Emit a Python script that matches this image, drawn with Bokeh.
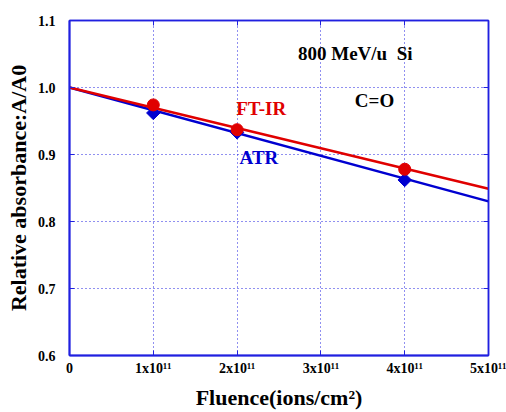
import math
from bokeh.plotting import figure
from bokeh.models import Range1d, FixedTicker, LinearAxis, Label
from bokeh.embed import file_html
from bokeh.resources import INLINE

# ---- data ----
fluence = [1e11, 2e11, 4e11]
ftir = [0.974, 0.937, 0.878]
atr = [0.962, 0.933, 0.862]
fit_x = [0, 5e11]
ftir_fit = [1.0, 0.849]
atr_fit = [1.0, 0.830]
x_ticks = [0, 1e11, 2e11, 3e11, 4e11, 5e11]
x_tick_labels = ["0", "1x10\u00b9\u00b9", "2x10\u00b9\u00b9", "3x10\u00b9\u00b9", "4x10\u00b9\u00b9", "5x10\u00b9\u00b9"]
y_ticks = [0.6, 0.7, 0.8, 0.9, 1.0, 1.1]

FONT = "Liberation Serif"
RED = "#e00000"
BLUE = "#0000d0"
AXC = "#2020e0"

p = figure(width=506, height=412, output_backend="svg", toolbar_location=None,
           x_range=Range1d(0, 5e11), y_range=Range1d(0.6, 1.1),
           min_border_left=69, min_border_right=18, min_border_top=20, min_border_bottom=57)
p.background_fill_color = "white"
p.border_fill_color = "white"
p.outline_line_color = AXC
p.outline_line_width = 1.5

for ax in (p.xaxis[0], p.yaxis[0]):
    ax.axis_line_color = AXC
    ax.axis_line_width = 2
    ax.major_tick_line_color = AXC
    ax.major_tick_in = 5
    ax.major_tick_out = 0
    ax.minor_tick_line_color = None
    ax.major_label_text_font = FONT
    ax.major_label_text_font_style = "bold"
    ax.major_label_text_font_size = "14px"
    ax.major_label_text_color = "black"
    ax.axis_label_text_font = FONT
    ax.axis_label_text_font_style = "bold"
    ax.axis_label_text_font_size = "22px"
    ax.axis_label_text_color = "black"

p.xaxis.ticker = FixedTicker(ticks=x_ticks)
p.xaxis.major_label_overrides = {int(t): lab for t, lab in zip(x_ticks, x_tick_labels)}
p.xaxis.major_label_standoff = 5
p.xaxis.axis_label = "Fluence(ions/cm\u00b2)"
p.xaxis.axis_label_standoff = 6
p.yaxis.ticker = FixedTicker(ticks=y_ticks)
p.yaxis.major_label_overrides = {t: f"{t:.1f}" for t in y_ticks}
p.yaxis.major_label_standoff = 14
p.yaxis.axis_label = "Relative absorbance:A/A0"
p.yaxis.axis_label_standoff = 4

# top/right axes with inward ticks, no labels
top = LinearAxis(ticker=FixedTicker(ticks=x_ticks),
                 major_label_overrides={int(t): "" for t in x_ticks},
                 axis_line_color=AXC, axis_line_width=1.5, major_tick_line_color=AXC,
                 major_tick_in=5, major_tick_out=0, minor_tick_line_color=None,
                 major_label_standoff=0)
right = LinearAxis(ticker=FixedTicker(ticks=y_ticks),
                   major_label_overrides={t: "" for t in y_ticks},
                   axis_line_color=AXC, axis_line_width=1.5, major_tick_line_color=AXC,
                   major_tick_in=5, major_tick_out=0, minor_tick_line_color=None,
                   major_label_standoff=0)
p.add_layout(top, "above")
p.add_layout(right, "right")

p.grid.grid_line_color = AXC
p.grid.grid_line_dash = "1 3"
p.grid.grid_line_width = 1
p.xgrid.ticker = FixedTicker(ticks=x_ticks)
p.ygrid.ticker = FixedTicker(ticks=y_ticks)

p.line(fit_x, atr_fit, line_color=BLUE, line_width=2.5)
p.line(fit_x, ftir_fit, line_color=RED, line_width=2.5)
p.scatter(fluence, atr, marker="square", angle=math.pi / 4, size=9.5,
          fill_color=BLUE, line_color=BLUE)
p.scatter(fluence, ftir, marker="circle", size=12, fill_color=RED, line_color=RED)

def lab(x, y, text, color, align="left", size="19px"):
    p.add_layout(Label(x=x, y=y, text=text, text_color=color, text_font=FONT,
                       text_font_style="bold", text_font_size=size,
                       text_align=align, text_baseline="middle"))

lab(3.41e11, 1.051, "800 MeV/u\u00a0 Si", "black", "center")
lab(3.64e11, 0.981, "C=O", "black", "center")
lab(1.99e11, 0.969, "FT-IR", RED)
lab(2.03e11, 0.8955, "ATR", BLUE)

open("out.html", "w").write(file_html(p, INLINE))
